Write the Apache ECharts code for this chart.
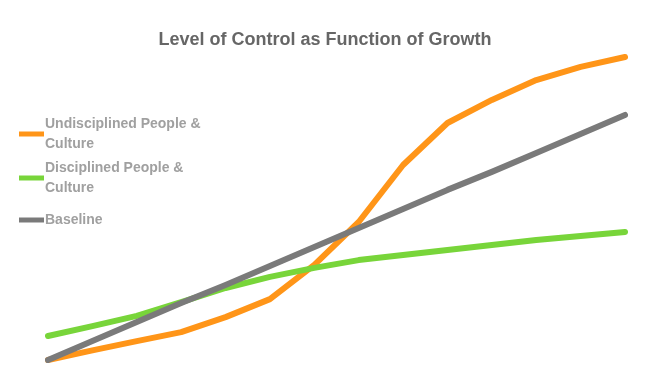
<!DOCTYPE html>
<html>
<head>
<meta charset="utf-8">
<script src="https://cdn.jsdelivr.net/npm/echarts@6/dist/echarts.min.js"></script>
<style>html,body{margin:0;padding:0;background:#fff}#c{width:650px;height:390px}</style>
</head>
<body>
<div id="c"></div>
<script>
const titleText = 'Level of Control as Function of Growth';
const categories = ['1','2','3','4','5','6','7','8','9','10','11','12','13','14'];
const seriesNames = ['Undisciplined People & Culture', 'Disciplined People & Culture', 'Baseline'];
const undisciplined = [0, 3.2, 6.3, 9.3, 14.3, 20.3, 31.7, 46, 65, 79, 86.7, 93.3, 97.7, 101];
const disciplined = [8, 11.3, 14.7, 19.3, 24, 27.7, 30.7, 33.3, 35, 36.7, 38.3, 40, 41.3, 42.7];
const baseline = [0, 6.3, 12.7, 19, 25, 31.3, 37.7, 44, 50.3, 56.7, 62.7, 69, 75.3, 81.7];
const colors = ['#FF9518', '#78D53A', '#7A7A7A'];

const chart = echarts.init(document.getElementById('c'), null, {renderer: 'canvas'});
const mk = (name, data, color) => ({
  name, type: 'line', data, symbol: 'none', smooth: false,
  lineStyle: {width: 6, color, cap: 'round', join: 'round'},
  itemStyle: {color},
  emphasis: {disabled: true}
});
chart.setOption({
  animation: false,
  backgroundColor: '#fff',
  title: {
    text: titleText, left: 'center', top: 26,
    textStyle: {fontFamily: 'Liberation Sans', fontWeight: 'bold', fontSize: 18, color: '#666666'}
  },
  legend: {
    orient: 'vertical', left: 14, top: 99, itemWidth: 25, itemHeight: 5, itemGap: -16,
    icon: 'path://M0,0 L100,0 L100,20 L0,20 Z',
    formatter: n => n.replace('& ', '&\n'),
    textStyle: {fontFamily: 'Liberation Sans', fontWeight: 'bold', fontSize: 14, color: '#A0A0A0', lineHeight: 20},
    data: [
      {name: seriesNames[0], textStyle: {padding: [20, 0, 0, -4]}},
      {name: seriesNames[1], textStyle: {padding: [20, 0, 0, -4]}},
      {name: seriesNames[2], textStyle: {padding: [18, 0, 18, -4]}}
    ]
  },
  grid: {left: 48, right: 25, top: 30, bottom: 30},
  xAxis: {type: 'category', data: categories, boundaryGap: false, show: false},
  yAxis: {type: 'value', min: 0, max: 110, show: false},
  series: [
    mk(seriesNames[0], undisciplined, colors[0]),
    mk(seriesNames[1], disciplined, colors[1]),
    mk(seriesNames[2], baseline, colors[2])
  ]
});
</script>
</body>
</html>
